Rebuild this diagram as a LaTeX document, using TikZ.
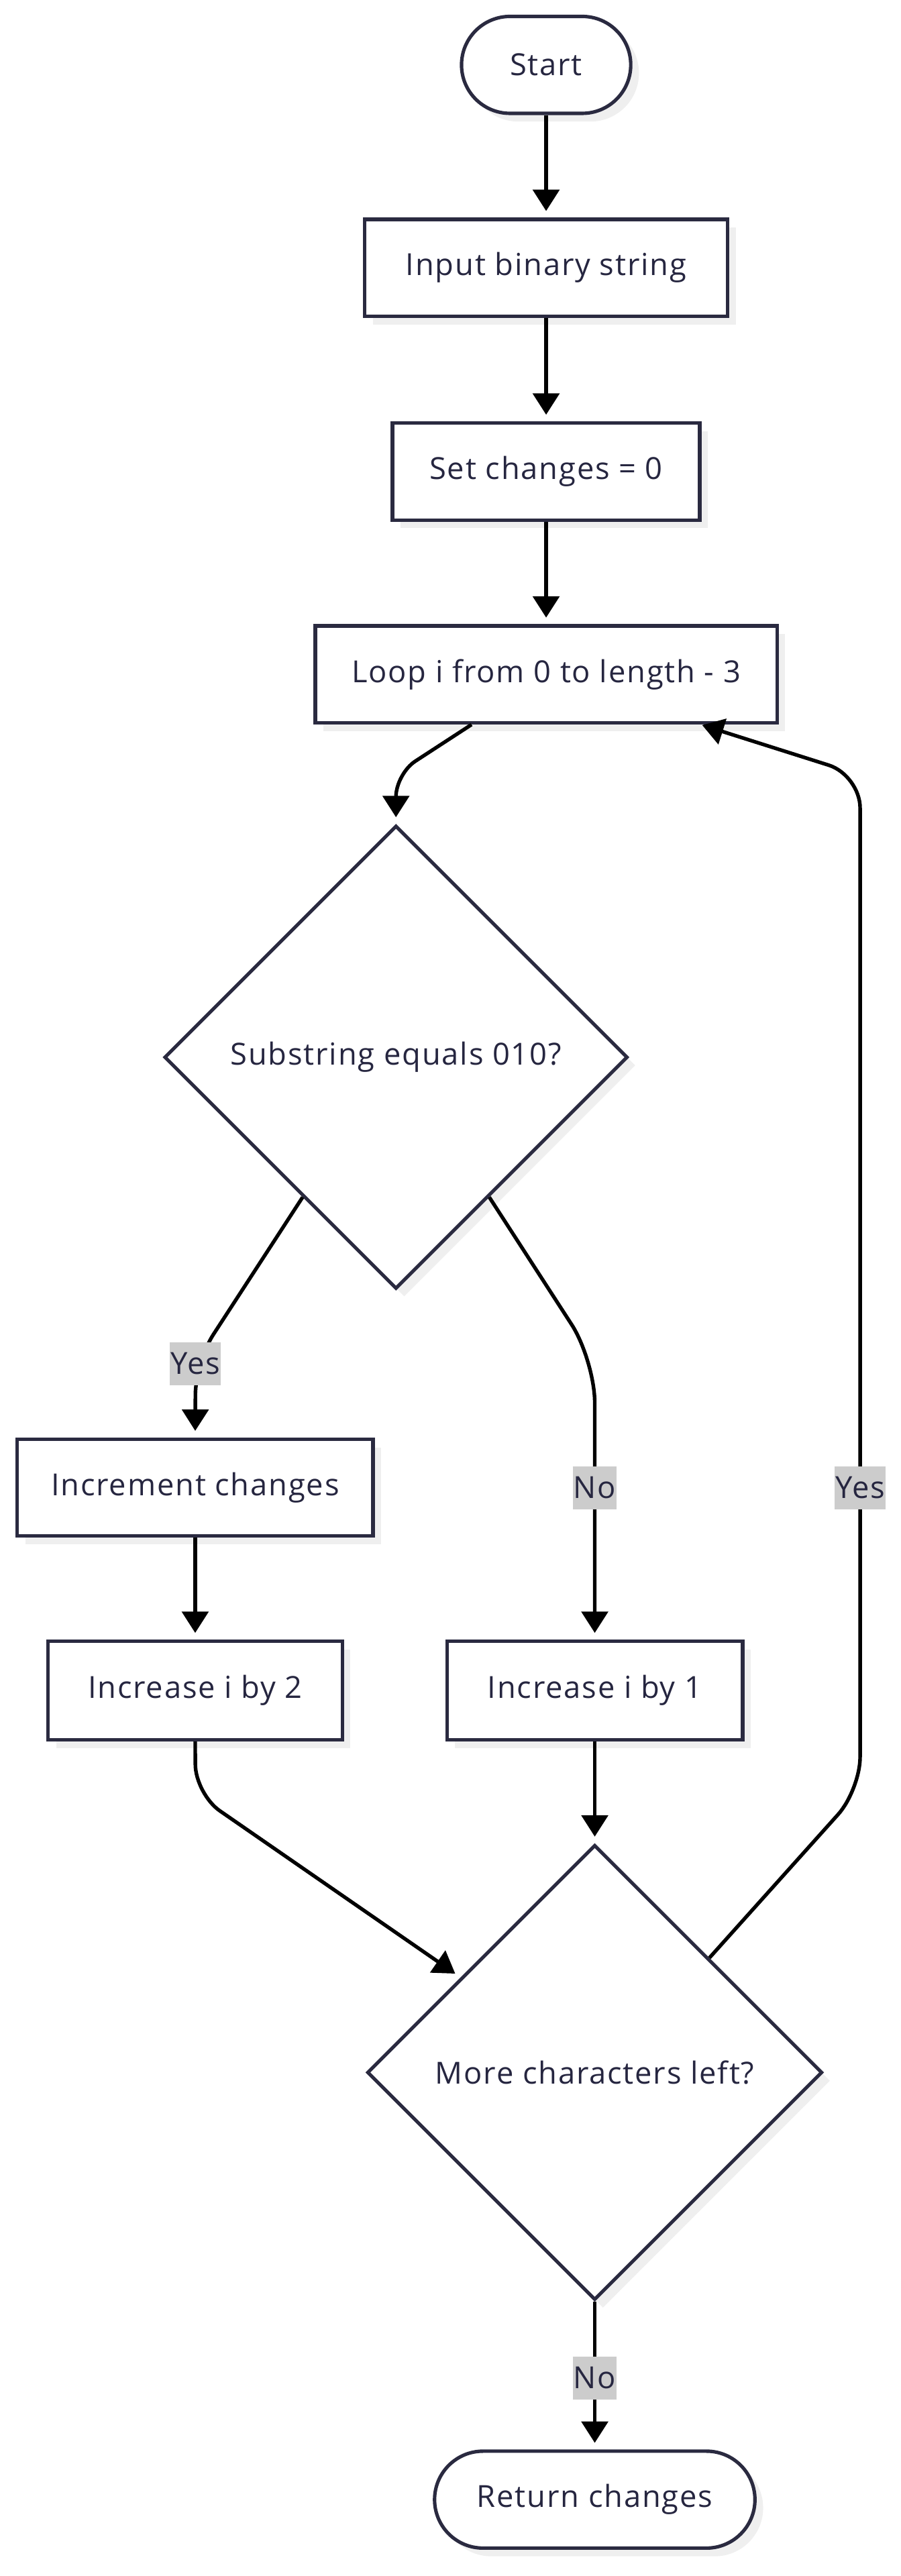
\documentclass[tikz,border=0pt]{standalone}
\usepackage{fontspec}
\setmainfont{Open Sans}[LetterSpace=4]
\usetikzlibrary{arrows.meta,shapes.geometric,shadows,calc}
\definecolor{nodeborder}{HTML}{2A2A40}
\definecolor{textcol}{HTML}{262640}
\definecolor{labelgray}{HTML}{CCCCCC}
\definecolor{shadowgray}{HTML}{EFEFEF}
\tikzset{
  base/.style={draw=nodeborder, line width=2.1pt, fill=white, text=textcol,
    font=\fontsize{18.5}{22}\selectfont, inner sep=0pt,
    drop shadow={shadow xshift=5pt, shadow yshift=-5pt, fill=shadowgray, opacity=1}},
  process/.style={base, rectangle, minimum height=59pt},
  terminal/.style={base, rectangle, rounded corners=29.5pt, minimum height=59pt},
  decision/.style={base, diamond, shape aspect=1},
  edge/.style={draw=black, line width=2.2pt, -{Triangle[length=13pt,width=16pt]}, shorten >=4pt},
  elabel/.style={fill=labelgray, text=textcol, inner xsep=0.5pt, inner ysep=0pt,
    minimum height=26pt, font=\fontsize{18.5}{22}\selectfont}
}
\begin{document}
\begin{tikzpicture}[x=1pt,y=-1pt]
\useasboundingbox (0,0) rectangle (548,1568);
% nodes
\node[terminal, minimum width=103pt] (start) at (332.4,39.5) {Start};
\node[process, minimum width=221pt] (input) at (332.4,163) {Input binary string};
\node[process, minimum width=187pt] (set) at (332.4,287) {Set changes = 0};
\node[process, minimum width=281pt] (loop) at (332.4,410.5) {Loop i from 0 to length - 3};
\node[decision, minimum width=282pt, minimum height=282pt] (d1) at (241,643.5) {Substring equals 010?};
\node[process, minimum width=216.5pt] (inc) at (118.8,905.5) {Increment changes};
\node[process, minimum width=179pt, minimum height=60pt] (inc2) at (118.8,1029) {Increase i by 2};
\node[process, minimum width=180pt, minimum height=60pt] (inc1) at (362,1029) {Increase i by 1};
\node[decision, minimum width=277pt, minimum height=277pt] (d2) at (362,1261.5) {More characters left?};
\node[terminal, minimum width=195pt] (ret) at (362,1521.5) {Return changes};
% waypoints
\coordinate (w1) at (241,471);
\coordinate (w2) at (119,829);
\coordinate (w3) at (362,828);
\coordinate (w4) at (119,1092);
\coordinate (w5) at (523.5,1089.5);
\coordinate (w6) at (523.5,471.8);
% edges
\draw[edge] (start.south) -- (input.north);
\draw[edge] (input.south) -- (set.north);
\draw[edge] (set.south) -- (loop.north);
\draw[edge, rounded corners=14pt] ([xshift=-45.4pt]loop.south) -- (w1) -- (d1.north);
\draw[edge, rounded corners=20pt] ($(d1.west)!0.6!(d1.south)$) -- (w2) -- (inc.north);
\draw[edge, rounded corners=26pt] ($(d1.east)!0.6!(d1.south)$) -- (w3) -- (inc1.north);
\draw[edge] (inc.south) -- (inc2.north);
\draw[edge, rounded corners=18pt] (inc2.south) -- (w4) -- ($(d2.north)!0.585!(d2.west)$);
\draw[edge] (inc1.south) -- (d2.north);
\draw[edge, rounded corners=20pt, shorten >=1pt] ($(d2.north)!0.5!(d2.east)$) -- (w5) -- (w6) -- ([xshift=94pt]loop.south);
\draw[edge] (d2.south) -- (ret.north);
% labels
\node[elabel] (lyes1) at (118.8,830) {Yes};
\node[elabel] (lno1) at (362,905.6) {No};
\node[elabel] (lyes2) at (523.5,905.6) {Yes};
\node[elabel] (lno2) at (362,1447.5) {No};
\end{tikzpicture}
\end{document}
